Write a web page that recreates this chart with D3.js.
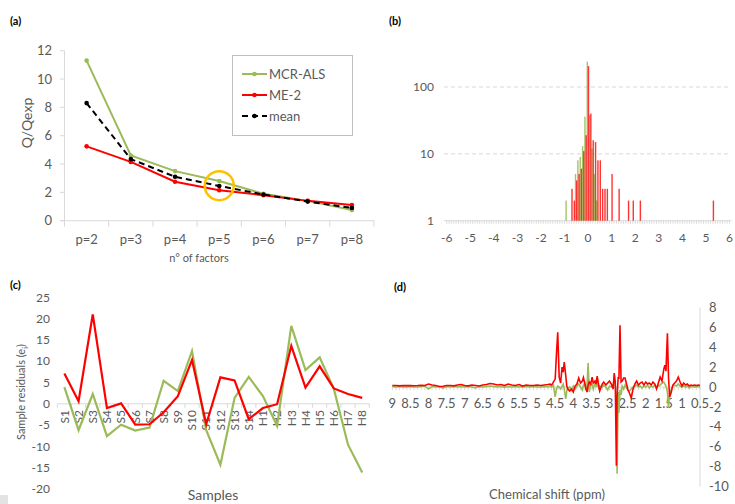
<!DOCTYPE html>
<html><head><meta charset="utf-8">
<script src="https://cdn.jsdelivr.net/npm/d3@7"></script>
<style>
body{margin:0;background:#fff}
svg{display:block}
text{font-family:Lato,"Open Sans",sans-serif;fill:#595959}
.lab{fill:#000;font-weight:700;font-size:11px}
</style>
</head><body><svg id="chart" width="735" height="504"></svg>
<script>
// ---------- (a) Q/Qexp vs number of factors ----------
const factors = ["p=2","p=3","p=4","p=5","p=6","p=7","p=8"];
const qMCR  = [11.3, 4.6, 3.5, 2.8, 1.9, 1.4, 0.75];
const qME2  = [5.25, 4.15, 2.75, 2.15, 1.8, 1.4, 1.1];
const qMean = [8.3, 4.35, 3.1, 2.45, 1.85, 1.35, 0.9];
const qTicks = [0,2,4,6,8,10,12];
const highlightFactor = "p=5";
const highlightValue = 2.47;

// ---------- (b) histogram of residuals (log count) ----------
const histMCRBins  = [-0.9,-0.5,-0.4,-0.3,-0.2,-0.1,0.0,0.1,0.2,0.3,0.4];
const histMCRCount = [2,5,8,9,13,36,240,38,12,5,2];
const histME2Bins  = [-0.7,-0.6,-0.5,-0.4,-0.3,-0.2,-0.1,0.0,0.1,0.2,0.3,0.4,0.5,0.6,0.7,0.8,1.0,1.3,1.7,1.9,2.2,5.3];
const histME2Count = [3,2,4,5,6,11,19,205,40,16,15,8,8,3,3,3,5,3,2,2,2,2];
const histXTicks = [-6,-5,-4,-3,-2,-1,0,1,2,3,4,5,6];
const histYTicks = [1,10,100];

// ---------- (c) sample residuals ----------
const samples = ["S1","S2","S3","S4","S5","S6","S7","S8","S9","S10","S11","S12","S13","S14","H1","H2","H3","H4","H5","H6","H7","H8"];
const resME2 = [7.1,0.6,21.0,-1.0,0.1,-4.9,-4.8,-2.0,1.8,10.3,-4.8,6.2,5.5,-3.6,-1.0,-0.1,13.6,3.8,8.8,3.6,2.3,1.4];
const resMCR = [3.9,-6.2,2.3,-7.6,-4.9,-6.3,-5.6,5.4,3.0,12.4,-6.2,-14.3,1.4,6.3,1.8,-5.2,18.3,7.9,10.9,3.5,-9.6,-16.1];
const resTicks = [25,20,15,10,5,0,-5,-10,-15,-20];

// ---------- (d) spectral residuals ----------
const ppm = [9.0,8.9,8.8,8.7,8.6,8.5,8.4,8.3,8.2,8.1,8.0,7.9,7.8,7.7,7.6,7.5,7.4,7.3,7.2,7.1,7.0,6.9,6.8,6.7,6.6,6.5,6.4,6.3,6.2,6.1,6.0,5.9,5.8,5.7,5.6,5.5,5.4,5.3,5.2,5.1,5.0,4.9,4.8,4.7,
 4.65,4.6,4.55,4.5,4.47,4.43,4.39,4.35,4.31,4.28,4.25,4.21,4.18,4.15,4.1,4.05,4.0,3.95,3.9,3.85,3.8,3.75,3.72,3.68,3.65,3.62,3.59,3.56,3.52,3.48,3.45,3.4,3.37,3.34,3.3,3.27,3.2,3.16,3.1,3.05,3.0,2.95,2.9,2.87,2.84,2.81,2.79,2.76,2.74,2.71,2.68,2.65,2.61,2.57,2.53,2.49,2.45,2.4,2.35,2.3,2.25,2.2,2.15,2.1,2.05,2.0,1.95,1.9,1.85,1.8,1.75,1.7,1.65,1.6,1.55,1.5,1.47,1.44,1.4,1.37,1.34,1.3,1.25,1.2,1.15,1.1,1.05,1.0,0.95,0.9,0.85,0.8,0.75,0.7,0.65,0.6,0.55,0.5];
const specME2 = [0.15,0.15,0.12,0.15,0.14,0.15,0.13,0.15,0.18,0.15,0.3,0.2,0.15,0.05,0.08,0.15,0.15,0.12,0.2,0.25,0.15,0.12,0.2,0.15,0.1,0.2,0.25,0.35,0.3,0.2,0.25,0.15,0.3,0.2,0.15,0.25,0.1,0.2,0.15,0.15,0.2,0.15,0.2,0.25,
 0.3,0.2,0.5,0.8,3.0,5.5,1.0,0.4,2.0,1.5,2.5,1.2,0.1,-0.2,-0.4,-0.2,-0.5,0.1,0.3,0.9,0.4,0.6,0.95,0.3,-0.2,-0.5,0.2,0.5,0.3,1.0,0.4,0.6,0.3,1.1,0.2,-0.4,0.3,0.5,0.2,0.4,0.6,0.3,-0.2,1.4,0.5,-7.9,-1.0,1.0,0.8,6.2,0.5,0.6,0.9,0.9,0.3,-0.3,-0.6,-1.1,-0.2,0.3,0.6,0.2,0.4,0.5,0.2,0.5,0.3,0.4,0.2,0.5,0.3,-0.2,0.4,1.0,0.6,1.8,2.2,1.6,5.4,1.0,-1.0,-0.6,0.2,0.4,0.6,1.0,0.5,0.1,0.4,0.2,0.3,0.1,0.2,0.15,0.2,0.15,0.2,0.15];
const specMCR = [0.05,0.0,0.05,0.02,0.0,0.05,0.02,0.0,0.05,0.1,-0.2,0.05,0.0,0.05,-0.1,0.05,0.0,0.05,0.02,0.05,0.0,0.05,0.0,-0.1,0.05,0.0,0.05,0.1,0.05,0.0,0.05,-0.05,0.05,0.0,0.05,0.02,0.0,0.05,0.0,0.05,0.02,0.0,0.05,0.0,
 0.1,0.0,0.2,-1.0,-0.3,0.1,0.0,-0.2,0.1,0.3,-0.2,-1.2,-0.4,-0.1,0.0,-0.3,0.1,-0.2,0.1,0.3,0.0,-0.3,0.2,0.4,-0.3,0.2,2.4,-0.5,0.3,0.2,-0.2,0.5,0.0,0.4,-0.1,0.1,0.0,0.2,0.0,-0.3,0.1,0.0,0.3,0.6,0.2,-1.0,-8.7,-0.5,-2.6,-0.3,-0.8,0.1,-0.2,0.2,-0.1,-0.3,-0.4,-0.2,0.0,0.1,0.2,0.0,0.1,-0.1,0.1,0.0,0.2,-0.1,0.1,0.0,0.2,0.0,0.1,0.2,0.4,0.5,0.3,0.1,-0.5,-2.1,-0.8,-0.3,0.1,0.2,0.1,0.3,0.1,0.0,0.1,0.0,0.1,-0.1,0.0,0.1,0.0,0.05,0.0,0.05];
const ppmTicks = [9,8.5,8,7.5,7,6.5,6,5.5,5,4.5,4,3.5,3,2.5,2,1.5,1,0.5];
const specTicks = [8,6,4,2,0,-2,-4,-6,-8,-10];

const GREEN = "#9bbb59", RED = "#ff0000", AXIS = "#d9d9d9";
const svg = d3.select("#chart");

// ================= Panel (a) =================
{
  const g = svg.append("g");
  g.append("text").attr("class","lab").attr("x",10).attr("y",25).text("(a)");
  const x = d3.scalePoint().domain(factors).range([64.5,374]).padding(0.5);
  const y = d3.scaleLinear().domain([0,12]).range([220.7,50.7]);
  // gridless axes
  g.append("line").attr("x1",64.5).attr("x2",64.5).attr("y1",y(12)).attr("y2",y(0)).attr("stroke",AXIS);
  g.append("line").attr("x1",60).attr("x2",374).attr("y1",y(0)).attr("y2",y(0)).attr("stroke",AXIS);
  qTicks.forEach(t=>{
    g.append("line").attr("x1",60).attr("x2",64.5).attr("y1",y(t)).attr("y2",y(t)).attr("stroke",AXIS);
    g.append("text").attr("x",52).attr("y",y(t)).attr("dy","0.35em").attr("text-anchor","end").attr("font-size",13).text(t);
  });
  const step = x.step();
  factors.forEach((f,i)=>{
    const bx = x(f)-step/2;
    g.append("line").attr("x1",bx).attr("x2",bx).attr("y1",y(0)).attr("y2",y(0)+6).attr("stroke",AXIS);
    if(i===factors.length-1) g.append("line").attr("x1",bx+step).attr("x2",bx+step).attr("y1",y(0)).attr("y2",y(0)+6).attr("stroke",AXIS);
    g.append("text").attr("x",x(f)).attr("y",244).attr("text-anchor","middle").attr("font-size",13).text(f);
  });
  g.append("text").attr("x",199).attr("y",262).attr("text-anchor","middle").attr("font-size",11).text("n° of factors");
  g.append("text").attr("transform","translate(32,123) rotate(-90)").attr("text-anchor","middle").attr("font-size",14).text("Q/Qexp");

  const line = d3.line().x((d,i)=>x(factors[i])).y(d=>y(d));
  const series = [
    {v:qMCR,c:GREEN,dash:null,name:"MCR-ALS"},
    {v:qME2,c:RED,dash:null,name:"ME-2"},
    {v:qMean,c:"#000",dash:"6,4",name:"mean"}];
  series.forEach(s=>{
    g.append("path").attr("d",line(s.v)).attr("fill","none").attr("stroke",s.c).attr("stroke-width",2).attr("stroke-dasharray",s.dash);
    g.selectAll(null).data(s.v).enter().append("circle").attr("cx",(d,i)=>x(factors[i])).attr("cy",d=>y(d)).attr("r",2.3).attr("fill",s.c);
  });
  g.append("circle").attr("cx",x(highlightFactor)).attr("cy",y(highlightValue)).attr("r",14.5).attr("fill","none").attr("stroke","#ffc000").attr("stroke-width",2.5);
  // legend
  g.append("rect").attr("x",232.5).attr("y",55.5).attr("width",120).attr("height",80).attr("fill","#fff").attr("stroke","#bfbfbf");
  series.forEach((s,i)=>{
    const ly = 74 + i*21;
    g.append("line").attr("x1",242).attr("x2",267).attr("y1",ly).attr("y2",ly).attr("stroke",s.c).attr("stroke-width",2).attr("stroke-dasharray",s.dash);
    g.append("circle").attr("cx",254.5).attr("cy",ly).attr("r",2.3).attr("fill",s.c);
    g.append("text").attr("x",269).attr("y",ly).attr("dy","0.35em").attr("font-size",13).text(s.name);
  });
}

// ================= Panel (b) =================
{
  const g = svg.append("g");
  g.append("text").attr("class","lab").attr("x",389).attr("y",25).text("(b)");
  const x = d3.scaleLinear().domain([-6,6]).range([446.7,729.5]);
  const y = d3.scaleLog().domain([1,100]).range([220.7,87]);
  [10,100].forEach(t=>{
    g.append("line").attr("x1",444).attr("x2",731).attr("y1",y(t)).attr("y2",y(t)).attr("stroke",AXIS).attr("stroke-dasharray","4,3");
  });
  histYTicks.forEach(t=>{
    g.append("text").attr("x",434).attr("y",y(t)).attr("dy","0.35em").attr("text-anchor","end").attr("font-size",12).text(t);
  });
  g.append("line").attr("x1",444).attr("x2",731.5).attr("y1",y(1)).attr("y2",y(1)).attr("stroke",AXIS);
  const minor = d3.range(-60,61).map(k=>k/10);
  g.selectAll(null).data(minor).enter().append("line")
    .attr("x1",d=>x(d)).attr("x2",d=>x(d)).attr("y1",y(1)).attr("y2",y(1)+3).attr("stroke",AXIS);
  histXTicks.forEach(t=>{
    g.append("text").attr("x",x(t)).attr("y",242).attr("text-anchor","middle").attr("font-size",12).text(t);
  });
  const bw = 1.4;
  g.selectAll(null).data(histMCRBins).enter().append("rect")
    .attr("x",d=>x(d)-bw-0.1).attr("width",bw)
    .attr("y",(d,i)=>y(histMCRCount[i])).attr("height",(d,i)=>y(1)-y(histMCRCount[i]))
    .attr("fill",GREEN).attr("opacity",0.9);
  g.selectAll(null).data(histME2Bins).enter().append("rect")
    .attr("x",d=>x(d)-0.3).attr("width",bw)
    .attr("y",(d,i)=>y(histME2Count[i])).attr("height",(d,i)=>y(1)-y(histME2Count[i]))
    .attr("fill",RED).attr("opacity",0.8);
}

// ================= Panel (c) =================
{
  const g = svg.append("g");
  g.append("text").attr("class","lab").attr("x",10).attr("y",289).text("(c)");
  const x = d3.scalePoint().domain(samples).range([57.3,369.3]).padding(0.5);
  const y = d3.scaleLinear().domain([-20,25]).range([489,297.3]);
  resTicks.forEach(t=>{
    g.append("text").attr("x",50).attr("y",y(t)).attr("dy","0.35em").attr("text-anchor","end").attr("font-size",12).text(t);
  });
  g.append("line").attr("x1",57.3).attr("x2",369.3).attr("y1",y(0)).attr("y2",y(0)).attr("stroke",AXIS);
  const step = x.step();
  samples.forEach((s,i)=>{
    const bx = x(s)-step/2;
    g.append("line").attr("x1",bx).attr("x2",bx).attr("y1",y(0)).attr("y2",y(0)+4).attr("stroke",AXIS);
    g.append("text").attr("transform",`translate(${x(s)},410) rotate(-90)`).attr("text-anchor","end").attr("dy","0.35em").attr("font-size",12).text(s);
  });
  g.append("line").attr("x1",369.3).attr("x2",369.3).attr("y1",y(0)).attr("y2",y(0)+4).attr("stroke",AXIS);
  const line = d3.line().x((d,i)=>x(samples[i])).y(d=>y(d));
  g.append("path").attr("d",line(resMCR)).attr("fill","none").attr("stroke",GREEN).attr("stroke-width",2.2);
  g.append("path").attr("d",line(resME2)).attr("fill","none").attr("stroke",RED).attr("stroke-width",2.2);
  const t = g.append("text").attr("transform","translate(25,392) rotate(-90)").attr("text-anchor","middle").attr("font-size",11);
  t.append("tspan").text("Sample residuals (e");
  t.append("tspan").attr("font-size",8).attr("dy",3).text("i");
  t.append("tspan").attr("dy",-3).text(")");
  g.append("text").attr("x",213).attr("y",500).attr("text-anchor","middle").attr("font-size",14).text("Samples");
  g.append("rect").attr("x",0).attr("y",495).attr("width",8).attr("height",9).attr("fill","#e3e3e3");
}

// ================= Panel (d) =================
{
  const g = svg.append("g");
  g.append("text").attr("class","lab").attr("x",394).attr("y",291).text("(d)");
  const x = d3.scaleLinear().domain([9,0.5]).range([392.3,700]);
  const y = d3.scaleLinear().domain([-10,8]).range([486.7,307.3]);
  g.append("line").attr("x1",700).attr("x2",700).attr("y1",y(8)).attr("y2",y(-10)).attr("stroke",AXIS);
  specTicks.forEach(t=>{
    g.append("text").attr("x",709).attr("y",y(t)).attr("dy","0.35em").attr("font-size",13).text(t);
  });
  g.append("line").attr("x1",392.3).attr("x2",700).attr("y1",y(0)).attr("y2",y(0)).attr("stroke",AXIS);
  const minor = d3.range(5,91).map(k=>k/10);
  g.selectAll(null).data(minor).enter().append("line")
    .attr("x1",d=>x(d)).attr("x2",d=>x(d)).attr("y1",y(0)).attr("y2",y(0)+3).attr("stroke",AXIS);
  ppmTicks.forEach(t=>{
    g.append("text").attr("x",x(t)).attr("y",408).attr("text-anchor","middle").attr("font-size",13).text(t);
  });
  const line = d3.line().x((d,i)=>x(ppm[i])).y(d=>y(d));
  g.append("path").attr("d",line(specMCR)).attr("fill","none").attr("stroke",GREEN).attr("stroke-width",1.6);
  g.append("path").attr("d",line(specME2)).attr("fill","none").attr("stroke",RED).attr("stroke-width",1.6);
  g.append("text").attr("x",547).attr("y",499).attr("text-anchor","middle").attr("font-size",13).text("Chemical shift (ppm)");
}
</script>
</body></html>
